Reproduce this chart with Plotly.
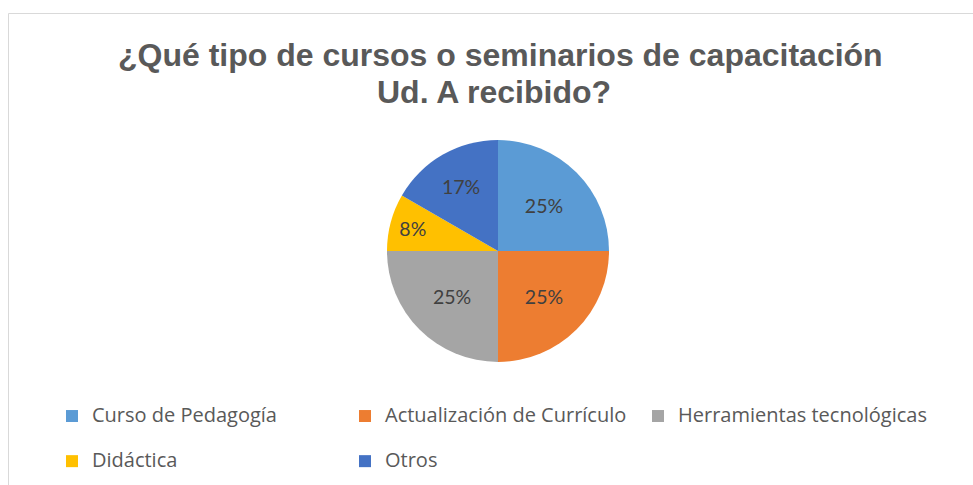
import plotly.graph_objects as go

W, H = 973, 485

categories = ["Curso de Pedagogía", "Actualización de Currículo", "Herramientas tecnológicas", "Didáctica", "Otros"]
values = [3, 3, 3, 1, 2]
colors = ["#5B9BD5", "#ED7D31", "#A5A5A5", "#FFC000", "#4472C4"]

title_line1 = "¿Qué tipo de cursos o seminarios de capacitación"
title_line2 = "Ud. A recibido?"

cx, cy, r = 498, 251, 111

# legend labels: real text at 20px; a second empty line widens the row pitch
legend_labels = ["<span style='font-size:20px'>" + c + "</span><br> " for c in categories]

fig = go.Figure(go.Pie(
    labels=legend_labels,
    values=values,
    customdata=categories,
    sort=False,
    direction="clockwise",
    rotation=0,
    marker=dict(colors=colors, line=dict(width=0)),
    texttemplate="%{percent:.0%}",
    textposition="inside",
    insidetextorientation="horizontal",
    textfont=dict(family="Lato, Open Sans, sans-serif", size=19.5, color="#404040"),
    hovertemplate="%{customdata}: %{percent:.0%}<extra></extra>",
    domain=dict(x=[(cx - r) / W, (cx + r) / W], y=[1 - (cy + r) / H, 1 - (cy - r) / H]),
))

fig.update_layout(
    width=W, height=H,
    margin=dict(l=0, r=0, t=0, b=0, autoexpand=False),
    paper_bgcolor="white",
    plot_bgcolor="white",
    showlegend=True,
    legend=dict(
        orientation="h",
        x=52 / W, xanchor="left",
        y=1 - 399 / H, yanchor="top",
        font=dict(family="Open Sans, sans-serif", size=16.2, color="#595959"),
        entrywidth=248, entrywidthmode="pixels",
        itemwidth=30,
        valign="top",
        traceorder="normal",
    ),
    annotations=[
        dict(text="<b>" + title_line1 + "</b>", x=500 / W, y=1 - 35 / H, xref="paper", yref="paper",
             xanchor="center", yanchor="top", showarrow=False,
             font=dict(family="Liberation Sans, Arial, sans-serif", size=32, color="#595959")),
        dict(text="<b>" + title_line2 + "</b>", x=494 / W, y=1 - 72 / H, xref="paper", yref="paper",
             xanchor="center", yanchor="top", showarrow=False,
             font=dict(family="Liberation Sans, Arial, sans-serif", size=32, color="#595959")),
    ],
    shapes=[
        dict(type="line", xref="paper", yref="paper", x0=8.5 / W, x1=1.0, y0=1 - 13.5 / H, y1=1 - 13.5 / H,
             line=dict(color="#D9D9D9", width=1)),
        dict(type="line", xref="paper", yref="paper", x0=8.5 / W, x1=8.5 / W, y0=0, y1=1 - 13.5 / H,
             line=dict(color="#D9D9D9", width=1)),
    ],
)

fig.write_html("out.html", config={"displayModeBar": False},
               post_script="document.body.style.margin='0';document.body.style.overflow='hidden';")
